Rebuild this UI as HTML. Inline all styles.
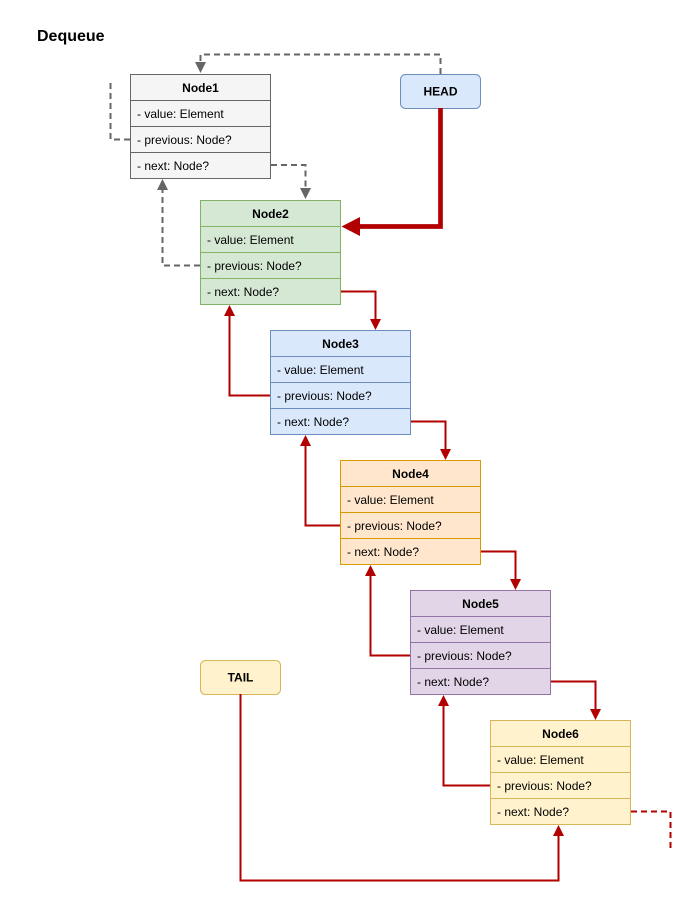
<!DOCTYPE html>
<html>
<head>
<meta charset="utf-8">
<style>
html,body{margin:0;padding:0;background:#fff;}
svg{display:block;}
text{font-family:"Liberation Sans",Helvetica,Arial,sans-serif;}
</style>
</head>
<body>
<svg width="693" height="910" viewBox="0 0 693 910" xmlns="http://www.w3.org/2000/svg">
<rect x="0" y="0" width="693" height="910" fill="#ffffff"/>
<text x="37" y="41" font-size="16" font-weight="bold" fill="#000">Dequeue</text>

<!-- Nodes -->
<g font-size="12" fill="#000">
  <!-- Node1 -->
  <g>
    <rect x="130.5" y="74.5" width="140" height="104" fill="#f5f5f5" stroke="#666666"/>
    <line x1="130.5" y1="100.5" x2="270.5" y2="100.5" stroke="#666666"/>
    <line x1="130.5" y1="126.5" x2="270.5" y2="126.5" stroke="#666666"/>
    <line x1="130.5" y1="152.5" x2="270.5" y2="152.5" stroke="#666666"/>
    <text x="200.5" y="92" text-anchor="middle" font-weight="bold">Node1</text>
    <text x="137" y="118">- value: Element</text>
    <text x="137" y="144">- previous: Node?</text>
    <text x="137" y="170">- next: Node?</text>
  </g>
  <!-- Node2 -->
  <g>
    <rect x="200.5" y="200.5" width="140" height="104" fill="#d5e8d4" stroke="#82b366"/>
    <line x1="200.5" y1="226.5" x2="340.5" y2="226.5" stroke="#82b366"/>
    <line x1="200.5" y1="252.5" x2="340.5" y2="252.5" stroke="#82b366"/>
    <line x1="200.5" y1="278.5" x2="340.5" y2="278.5" stroke="#82b366"/>
    <text x="270.5" y="218" text-anchor="middle" font-weight="bold">Node2</text>
    <text x="207" y="244">- value: Element</text>
    <text x="207" y="270">- previous: Node?</text>
    <text x="207" y="296">- next: Node?</text>
  </g>
  <!-- Node3 -->
  <g>
    <rect x="270.5" y="330.5" width="140" height="104" fill="#dae8fc" stroke="#6c8ebf"/>
    <line x1="270.5" y1="356.5" x2="410.5" y2="356.5" stroke="#6c8ebf"/>
    <line x1="270.5" y1="382.5" x2="410.5" y2="382.5" stroke="#6c8ebf"/>
    <line x1="270.5" y1="408.5" x2="410.5" y2="408.5" stroke="#6c8ebf"/>
    <text x="340.5" y="348" text-anchor="middle" font-weight="bold">Node3</text>
    <text x="277" y="374">- value: Element</text>
    <text x="277" y="400">- previous: Node?</text>
    <text x="277" y="426">- next: Node?</text>
  </g>
  <!-- Node4 -->
  <g>
    <rect x="340.5" y="460.5" width="140" height="104" fill="#ffe6cc" stroke="#d79b00"/>
    <line x1="340.5" y1="486.5" x2="480.5" y2="486.5" stroke="#d79b00"/>
    <line x1="340.5" y1="512.5" x2="480.5" y2="512.5" stroke="#d79b00"/>
    <line x1="340.5" y1="538.5" x2="480.5" y2="538.5" stroke="#d79b00"/>
    <text x="410.5" y="478" text-anchor="middle" font-weight="bold">Node4</text>
    <text x="347" y="504">- value: Element</text>
    <text x="347" y="530">- previous: Node?</text>
    <text x="347" y="556">- next: Node?</text>
  </g>
  <!-- Node5 -->
  <g>
    <rect x="410.5" y="590.5" width="140" height="104" fill="#e1d5e7" stroke="#9673a6"/>
    <line x1="410.5" y1="616.5" x2="550.5" y2="616.5" stroke="#9673a6"/>
    <line x1="410.5" y1="642.5" x2="550.5" y2="642.5" stroke="#9673a6"/>
    <line x1="410.5" y1="668.5" x2="550.5" y2="668.5" stroke="#9673a6"/>
    <text x="480.5" y="608" text-anchor="middle" font-weight="bold">Node5</text>
    <text x="417" y="634">- value: Element</text>
    <text x="417" y="660">- previous: Node?</text>
    <text x="417" y="686">- next: Node?</text>
  </g>
  <!-- Node6 -->
  <g>
    <rect x="490.5" y="720.5" width="140" height="104" fill="#fff2cc" stroke="#d6b656"/>
    <line x1="490.5" y1="746.5" x2="630.5" y2="746.5" stroke="#d6b656"/>
    <line x1="490.5" y1="772.5" x2="630.5" y2="772.5" stroke="#d6b656"/>
    <line x1="490.5" y1="798.5" x2="630.5" y2="798.5" stroke="#d6b656"/>
    <text x="560.5" y="738" text-anchor="middle" font-weight="bold">Node6</text>
    <text x="497" y="764">- value: Element</text>
    <text x="497" y="790">- previous: Node?</text>
    <text x="497" y="816">- next: Node?</text>
  </g>
  <!-- HEAD -->
  <rect x="400.5" y="74.5" width="80" height="34" rx="5" ry="5" fill="#dae8fc" stroke="#6c8ebf"/>
  <text x="440.5" y="95.5" text-anchor="middle" font-weight="bold">HEAD</text>
  <!-- TAIL -->
  <rect x="200.5" y="660.5" width="80" height="34" rx="5" ry="5" fill="#fff2cc" stroke="#d6b656"/>
  <text x="240.5" y="681.5" text-anchor="middle" font-weight="bold">TAIL</text>
</g>

<!-- Gray dashed connectors -->
<g fill="none" stroke="#666666" stroke-width="2" stroke-dasharray="6 4">
  <polyline points="440.5,74 440.5,54.5 200.5,54.5 200.5,64"/>
  <polyline points="130,139.5 110.5,139.5 110.5,82"/>
  <polyline points="271,165 305.5,165 305.5,190"/>
  <polyline points="200,265.5 162.5,265.5 162.5,188"/>
</g>
<g fill="#666666">
  <polygon points="200.5,73 195,62 206,62"/>
  <polygon points="305.5,199 300,188 311,188"/>
  <polygon points="162.5,179 157,190 168,190"/>
</g>

<!-- HEAD thick red -->
<polyline points="440.5,108 440.5,226.5 358,226.5" fill="none" stroke="#b20000" stroke-width="4.7"/>
<polygon points="341.5,226.5 360,217 360,236" fill="#b20000"/>

<!-- Red thin connectors -->
<g fill="none" stroke="#b20000" stroke-width="2">
  <polyline points="341,291.5 375.5,291.5 375.5,320"/>
  <polyline points="270,395.5 229.5,395.5 229.5,314"/>
  <polyline points="411,421.5 445.5,421.5 445.5,450"/>
  <polyline points="340,525.5 305.5,525.5 305.5,444"/>
  <polyline points="481,551.5 515.5,551.5 515.5,580"/>
  <polyline points="410,655.5 370.5,655.5 370.5,574"/>
  <polyline points="551,681.5 595.5,681.5 595.5,710"/>
  <polyline points="490,785.5 443.5,785.5 443.5,704"/>
  <polyline points="240.5,694 240.5,880.5 558.5,880.5 558.5,834"/>
</g>
<polyline points="631,811.5 670.5,811.5 670.5,850" fill="none" stroke="#b20000" stroke-width="2" stroke-dasharray="6 4"/>
<g fill="#b20000">
  <polygon points="375.5,330 370,319 381,319"/>
  <polygon points="229.5,305 224,316 235,316"/>
  <polygon points="445.5,460 440,449 451,449"/>
  <polygon points="305.5,435 300,446 311,446"/>
  <polygon points="515.5,590 510,579 521,579"/>
  <polygon points="370.5,565 365,576 376,576"/>
  <polygon points="595.5,720 590,709 601,709"/>
  <polygon points="443.5,695 438,706 449,706"/>
  <polygon points="558.5,825 553,836 564,836"/>
</g>
</svg>
</body>
</html>
